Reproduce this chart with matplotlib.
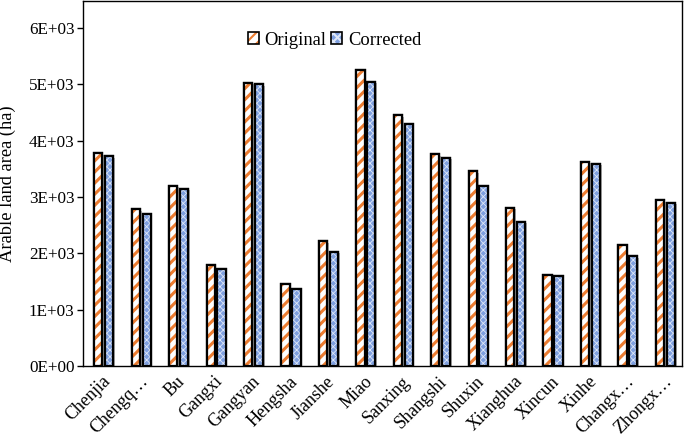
import matplotlib
matplotlib.use("Agg")
import matplotlib.pyplot as plt
import matplotlib.patheffects as pe
from matplotlib.patches import Patch
import numpy as np

categories = ["Chenjia", "Chengq…", "Bu", "Gangxi", "Gangyan", "Hengsha", "Jianshe", "Miao",
              "Sanxing", "Shangshi", "Shuxin", "Xianghua", "Xincun", "Xinhe", "Changx…", "Zhongx…"]
original = [3780, 2780, 3200, 1790, 5030, 1450, 2220, 5250, 4450, 3760, 3460, 2810, 1620, 3630, 2140, 2940]
corrected = [3720, 2700, 3150, 1730, 5000, 1370, 2030, 5050, 4300, 3700, 3200, 2560, 1600, 3590, 1950, 2900]
yticks = [0, 1000, 2000, 3000, 4000, 5000, 6000]
ytick_labels = ["0E+00", "1E+03", "2E+03", "3E+03", "4E+03", "5E+03", "6E+03"]

plt.rcParams['font.family'] = ['Liberation Serif', 'DejaVu Serif']
plt.rcParams['hatch.linewidth'] = 2.2

fig = plt.figure(figsize=(6.85, 4.34), dpi=100)
ax = fig.add_axes([83/685, 1 - 366/434, 599/685, 365/434])

x = np.arange(len(categories))
w = 0.22
orange = '#ed7d31'
blue_face = '#7fa0e0'
shadow = [pe.SimplePatchShadow(offset=(1.2, -1.2), shadow_rgbFace='#9a9a9a', alpha=0.7), pe.Normal()]

xo = x - 0.09
xc = x + 0.20
ax.bar(xo, original, w, color='white', edgecolor='black', linewidth=1.6, zorder=2, path_effects=shadow)
ax.bar(xo, original, w, color='white', edgecolor=orange, hatch='///', linewidth=0, zorder=3)
ax.bar(xo, original, w, color='none', edgecolor='black', linewidth=1.6, zorder=4)

ax.bar(xc, corrected, w, color=blue_face, edgecolor='black', linewidth=1.6, zorder=2, path_effects=shadow)
plt.rcParams['hatch.linewidth'] = 0.6
ax.bar(xc, corrected, w, color=blue_face, edgecolor='#dfe7f7', hatch='xxxxx', linewidth=0, zorder=3)
ax.bar(xc, corrected, w, color='none', edgecolor='black', linewidth=1.6, zorder=4)

ax.set_xlim(-0.5, len(categories) - 0.5)
ax.set_ylim(0, 6480)
ax.set_yticks(yticks)
ax.set_yticklabels(ytick_labels, fontsize=12.3)
ax.set_xticks(x)
ax.set_xticklabels(categories, rotation=45, ha='right', rotation_mode='anchor', fontsize=13)
ax.tick_params(axis='x', length=0, pad=5)
ax.tick_params(axis='y', direction='out', length=4, width=1, pad=2)
ax.set_ylabel("Arable land area (ha)", fontsize=13.3)
ax.yaxis.set_label_coords(-0.112, 0.5)
for s in ax.spines.values():
    s.set_linewidth(1.0)

plt.rcParams['hatch.linewidth'] = 1.5
h1 = Patch(facecolor='white', edgecolor=orange, hatch='///', linewidth=0)
h1b = Patch(facecolor='none', edgecolor='black', linewidth=1.2)
h2 = Patch(facecolor=blue_face, edgecolor='#dfe7f7', hatch='xxxx', linewidth=0)
h2b = Patch(facecolor='none', edgecolor='black', linewidth=1.2)
ax.legend([(h1, h1b), (h2, h2b)], ["Original", "Corrected"], ncol=2, frameon=False,
          loc='center', bbox_to_anchor=(0.42, 0.893), fontsize=13.3,
          handlelength=0.6, handleheight=0.6, handletextpad=0.3, columnspacing=0.25)

fig.savefig("out.png", dpi=100)
